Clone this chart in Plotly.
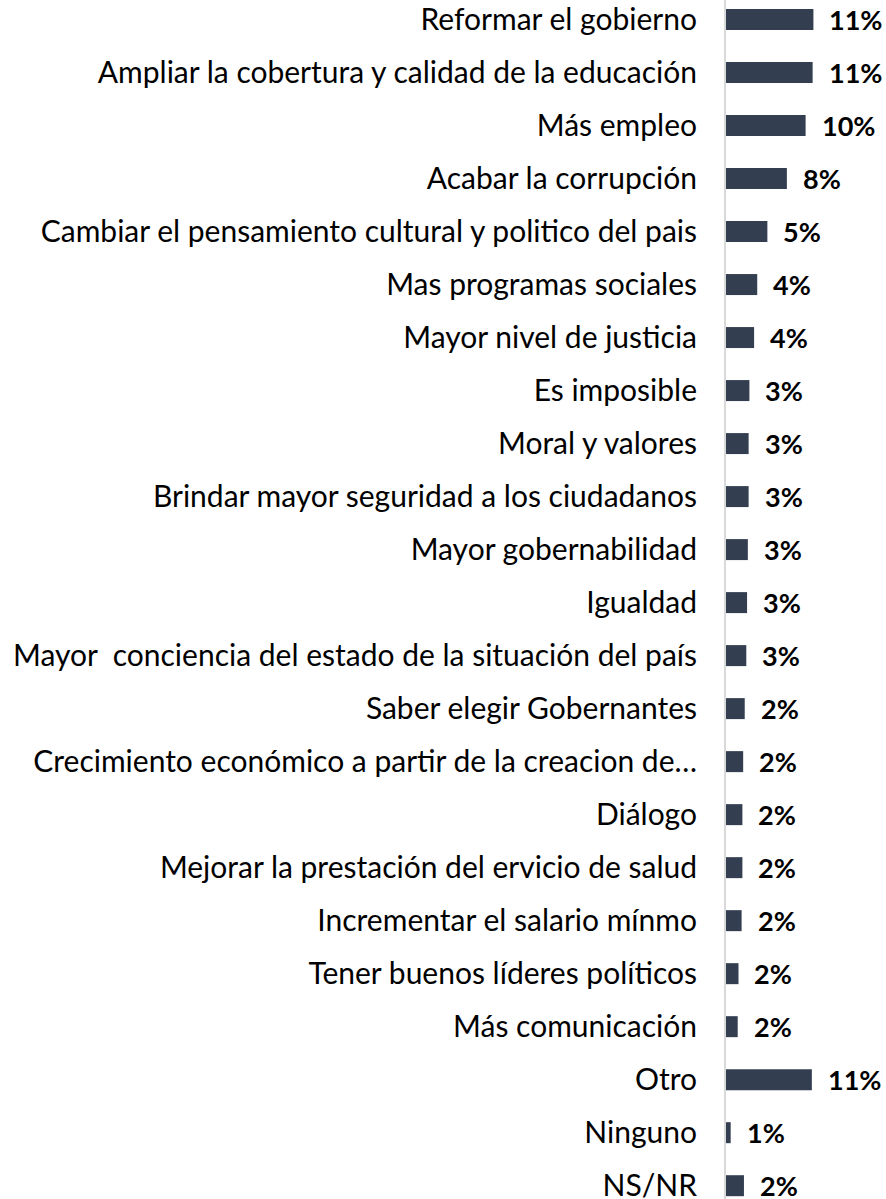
import plotly.graph_objects as go

categories = [
    "Reformar el gobierno",
    "Ampliar la cobertura y calidad de la educación",
    "Más empleo",
    "Acabar la corrupción",
    "Cambiar el pensamiento cultural y politico del pais",
    "Mas programas sociales",
    "Mayor nivel de justicia",
    "Es imposible",
    "Moral y valores",
    "Brindar mayor seguridad a los ciudadanos",
    "Mayor gobernabilidad",
    "Igualdad",
    "Mayor  conciencia del estado de la situación del país",
    "Saber elegir Gobernantes",
    "Crecimiento económico a partir de la creacion de…",
    "Diálogo",
    "Mejorar la prestación del ervicio de salud",
    "Incrementar el salario mínmo",
    "Tener buenos líderes políticos",
    "Más comunicación",
    "Otro",
    "Ninguno",
    "NS/NR",
]
values = [11.2, 11.1, 10.2, 7.8, 5.3, 4.0, 3.6, 3.0, 2.9, 2.9, 2.8, 2.7, 2.6,
          2.4, 2.2, 2.1, 2.1, 2.0, 1.6, 1.5, 11.0, 0.6, 2.3]
value_labels = ["11%", "11%", "10%", "8%", "5%", "4%", "4%", "3%", "3%", "3%", "3%",
                "3%", "3%", "2%", "2%", "2%", "2%", "2%", "2%", "2%", "11%", "1%", "2%"]

fig = go.Figure()
fig.add_trace(go.Bar(
    x=values, y=categories, orientation="h",
    marker=dict(color="#333F50", line=dict(width=0)),
    hoverinfo="skip",
))
for c, v, t in zip(categories, values, value_labels):
    fig.add_annotation(x=v, y=c, text="<b>" + t + "</b>", showarrow=False,
                       xanchor="left", yanchor="middle", xshift=14,
                       font=dict(family="Lato", size=27, color="#000000"))

fig.update_layout(
    width=886, height=1199,
    margin=dict(l=726, r=0, t=0, b=0),
    plot_bgcolor="white", paper_bgcolor="white",
    bargap=0.604, showlegend=False,
    font=dict(family="Lato", size=30, color="#000000"),
    xaxis=dict(range=[0, 20.5], visible=False, showgrid=False, zeroline=False),
    yaxis=dict(range=[22.251, -0.368], showgrid=False, zeroline=False,
               automargin=False,
               showline=True, linecolor="#D9D9D9", linewidth=2,
               ticks="", ticklabelstandoff=21,
               tickfont=dict(family="Lato", size=30, color="#000000")),
)
fig.write_html("out.html", config={"displayModeBar": False},
               post_script="document.body.style.margin='0';document.body.style.overflow='hidden';")
